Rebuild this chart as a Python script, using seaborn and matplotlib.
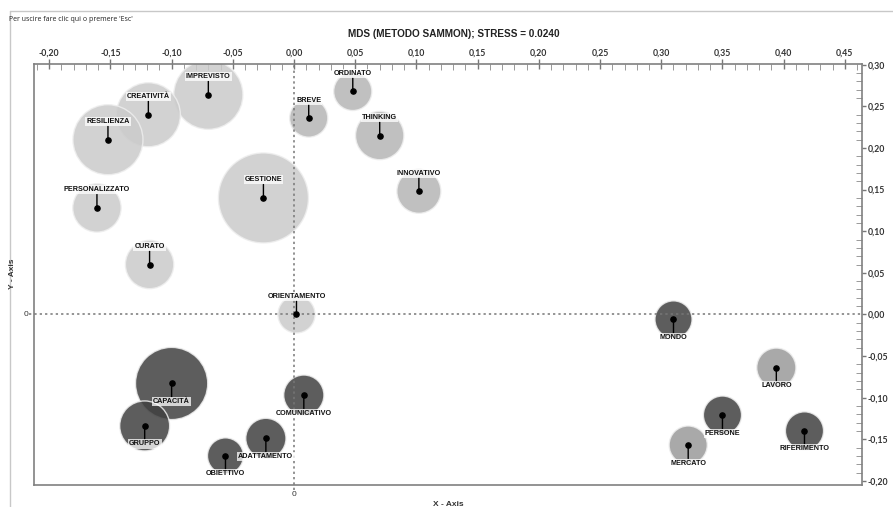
import matplotlib
matplotlib.use("Agg")
import matplotlib.pyplot as plt
import numpy as np
import pandas as pd
import seaborn as sns
from matplotlib.lines import Line2D
from matplotlib.ticker import MultipleLocator, FixedLocator, FuncFormatter

# data
words = ["IMPREVISTO", "CREATIVITÀ", "RESILIENZA", "PERSONALIZZATO", "GESTIONE",
         "CURATO", "ORIENTAMENTO", "BREVE", "ORDINATO", "THINKING", "INNOVATIVO",
         "CAPACITÀ", "GRUPPO", "COMUNICATIVO", "ADATTAMENTO", "OBIETTIVO",
         "MONDO", "PERSONE", "RIFERIMENTO", "LAVORO", "MERCATO"]
x_coord = [-0.070, -0.119, -0.152, -0.161, -0.025,
           -0.118, 0.002, 0.012, 0.048, 0.070, 0.102,
           -0.100, -0.122, 0.008, -0.023, -0.056,
           0.310, 0.350, 0.417, 0.394, 0.322]
y_coord = [0.264, 0.240, 0.210, 0.128, 0.140,
           0.060, 0.000, 0.236, 0.268, 0.215, 0.148,
           -0.083, -0.134, -0.097, -0.149, -0.170,
           -0.006, -0.121, -0.140, -0.064, -0.157]
freq = [119, 102, 122, 58, 202,
        58, 34, 36, 36, 58, 48,
        130, 62, 40, 40, 32,
        34, 36, 36, 38, 36]
cluster = ["1", "1", "1", "1", "1",
           "1", "1", "2", "2", "2", "2",
           "3", "3", "3", "3", "3",
           "3", "3", "3", "4", "4"]

x_ticks = [-0.20, -0.15, -0.10, -0.05, 0.00, 0.05, 0.10, 0.15, 0.20, 0.25, 0.30, 0.35, 0.40, 0.45]
y_ticks = [-0.20, -0.15, -0.10, -0.05, 0.00, 0.05, 0.10, 0.15, 0.20, 0.25, 0.30]

df = pd.DataFrame({"word": words, "x": x_coord, "y": y_coord,
                   "freq": freq, "cluster": cluster})

palette = {"1": "#cbcbcb", "2": "#b5b5b5", "3": "#404040", "4": "#9a9a9a"}
label_above = {"1": True, "2": True, "3": False, "4": False}

sns.set_theme(style="white")
plt.rcParams["font.family"] = ["Liberation Sans", "DejaVu Sans"]

fig = plt.figure(figsize=(8.93, 5.07), dpi=100)
ax = fig.add_axes([0.0381, 0.0434, 0.9272, 0.8304])

# bubbles, area proportional to frequency
sns.scatterplot(data=df, x="x", y="y", hue="cluster", palette=palette,
                size="freq", sizes=(672, 4199), size_norm=(32, 202),
                alpha=0.85, edgecolor="#eeeeee", linewidth=1.0,
                legend=False, ax=ax, zorder=2)
# centre points
ax.scatter(df["x"], df["y"], s=14, color="black", zorder=5)

for _, r in df.iterrows():
    up = label_above[r["cluster"]]
    ax.annotate(r["word"], xy=(r["x"], r["y"]),
                xytext=(0, 13 if up else -13), textcoords="offset points",
                ha="center", va="center", fontsize=5.2, fontweight="bold",
                color="#111111", zorder=6,
                bbox=dict(boxstyle="square,pad=0.15", fc="white", ec="none", alpha=0.75),
                arrowprops=dict(arrowstyle="-", color="black", lw=1.0,
                                shrinkA=0, shrinkB=0))

xmin, xmax = -0.2124, 0.464
ymin, ymax = -0.205, 0.301
ax.set_xlim(xmin, xmax)
ax.set_ylim(ymin, ymax)

# dotted zero lines
ax.plot([0, 0], [ymin - 0.006, ymax], ls=(0, (1.5, 2)), color="#777777",
        lw=1.1, clip_on=False, zorder=3)
ax.plot([xmin - 0.004, xmax], [0, 0], ls=(0, (1.5, 2)), color="#777777",
        lw=1.1, clip_on=False, zorder=3)

def comma(v, pos=None):
    return f"{v:.2f}".replace(".", ",")

ax.xaxis.tick_top()
ax.xaxis.set_major_locator(FixedLocator(x_ticks))
ax.xaxis.set_minor_locator(MultipleLocator(0.01))
ax.xaxis.set_major_formatter(FuncFormatter(comma))
ax.yaxis.tick_right()
ax.yaxis.set_major_locator(FixedLocator(y_ticks))
ax.yaxis.set_minor_locator(MultipleLocator(0.01))
ax.yaxis.set_major_formatter(FuncFormatter(comma))
ax.tick_params(axis="x", which="major", direction="inout", length=7, width=1,
               color="#777777", labelsize=6.3, labelcolor="#333333", pad=1)
ax.tick_params(axis="x", which="minor", direction="in", length=4, width=0.7,
               color="#999999")
ax.tick_params(axis="y", which="major", direction="out", length=3, width=1,
               color="#777777", labelsize=6.3, labelcolor="#333333", pad=1)
ax.tick_params(axis="y", which="minor", direction="in", length=4, width=0.7,
               color="#999999")
for tl in ax.get_xticklabels() + ax.get_yticklabels():
    tl.set_family(["Lato", "DejaVu Sans"])
    tl.set_fontweight("bold")

for side in ["top", "right", "bottom", "left"]:
    ax.spines[side].set_visible(True)
    ax.spines[side].set_color("#808080")
    ax.spines[side].set_linewidth(1.2)

ax.set_xlabel("")
ax.set_ylabel("")

# zero labels on the bottom and left edges
ax.annotate("0", xy=(0, 0), xycoords=("data", "axes fraction"), xytext=(0, -7),
            textcoords="offset points", ha="center", va="center",
            fontsize=6, color="#333333")
ax.annotate("0", xy=(0, 0), xycoords=("axes fraction", "data"), xytext=(-6, 0),
            textcoords="offset points", ha="center", va="center",
            fontsize=6, color="#333333")

fig.text(0.5 + 0.008, 0.933, "MDS (METODO SAMMON); STRESS = 0.0240",
         ha="center", va="center", fontsize=7.2, fontweight="bold", color="#222222")
fig.text(0.010, 0.962, "Per uscire fare clic qui o premere 'Esc'",
         ha="left", va="center", fontsize=5, color="#222222",
         family=["Open Sans", "DejaVu Sans"])
fig.text(0.5015, 0.005, "X - Axis", ha="center", va="center", fontsize=6,
         fontweight="bold", color="#333333")
fig.text(0.0135, 0.46, "Y - Axis", ha="center", va="center", rotation=90,
         fontsize=6, fontweight="bold", color="#333333")

# window frame
fig.add_artist(Line2D([10 / 893, 1.0], [1 - 11 / 507, 1 - 11 / 507],
                      transform=fig.transFigure, color="#c8c8c8", lw=1))
fig.add_artist(Line2D([10 / 893, 10 / 893], [0.0, 1 - 11 / 507],
                      transform=fig.transFigure, color="#c8c8c8", lw=1))

fig.savefig("out.png", dpi=100)
